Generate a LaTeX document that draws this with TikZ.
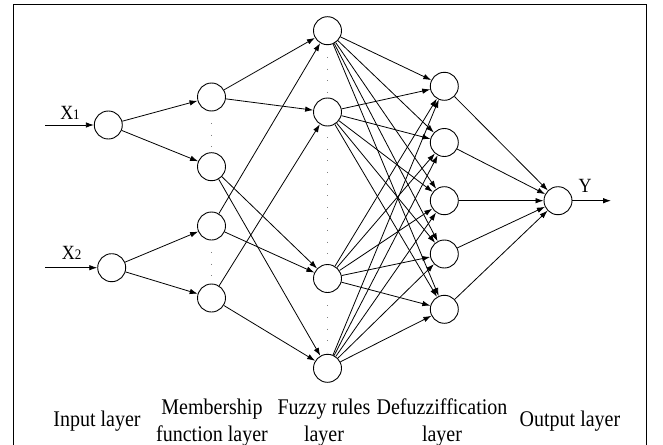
\documentclass[tikz,border=0pt]{standalone}
\usepackage{fontspec}
\setmainfont{Liberation Serif}
\usetikzlibrary{arrows.meta}
\newcommand{\tallbox}[1]{\scalebox{1}[1.12]{#1}}
\begin{document}
\begin{tikzpicture}[x=1pt,y=-1pt]
\tikzset{
  neuron/.style={circle, draw, line width=0.9pt, minimum size=28pt, inner sep=0pt},
  conn/.style={line width=0.8pt, -{Latex[length=8pt,width=5.5pt]}},
  dotcol/.style={draw=gray, line width=1pt, dash pattern=on 1pt off 10.6pt},
  lbl/.style={font=\fontsize{20}{24.5}\selectfont, inner sep=0pt, anchor=base},
  inlbl/.style={font=\fontsize{18}{20}\selectfont, inner sep=0pt, anchor=base},
  framelines/.style={line width=1.3pt},
}
\useasboundingbox (0,0) rectangle (663,444);
% frame
\draw[framelines] (13.7,460) -- (13.7,4.5) -- (646.7,4.5) -- (646.7,460);

% input layer
\node[neuron] (I1) at (108.3,125) {};
\node[neuron] (I2) at (111.7,267.7) {};
\coordinate (in1) at (45,125);
\coordinate (in2) at (45,267.7);
% membership layer
\node[neuron] (M1) at (211.5,97) {};
\node[neuron] (M2) at (211.5,166.7) {};
\node[neuron] (M3) at (211.5,226) {};
\node[neuron] (M4) at (211.5,298) {};
% fuzzy rules layer
\node[neuron] (F1) at (327.5,30.7) {};
\node[neuron] (F2) at (327.5,112) {};
\node[neuron] (F3) at (327.5,278.5) {};
\node[neuron] (F4) at (327.5,368.3) {};
% defuzzification layer
\node[neuron] (D1) at (444.3,86.3) {};
\node[neuron] (D2) at (444.3,142.5) {};
\node[neuron] (D3) at (444.3,200.7) {};
\node[neuron] (D4) at (444.3,254) {};
\node[neuron] (D5) at (444.3,309.3) {};
% output layer
\node[neuron] (O) at (558,200.7) {};
\coordinate (outend) at (611,200.7);

% dots
\draw[dotcol] ([yshift=-11.5pt]M1.south) -- ([yshift=3pt]M2.north);
\draw[dotcol] ([yshift=-11.5pt]M3.south) -- ([yshift=7pt]M4.north);
\draw[dotcol] ([yshift=-11.8pt]F1.south) -- ([yshift=3pt]F2.north);
\draw[dotcol] ([yshift=-10.7pt]F2.south) -- ([yshift=5pt]F3.north);
\draw[dotcol] ([yshift=-12.5pt]F3.south) -- ([yshift=2pt]F4.north);

% connections
\draw[conn] (in1) -- (I1);
\draw[conn] (in2) -- (I2);
\foreach \a/\b in {I1/M1, I1/M2, I2/M3, I2/M4,
                   M1/F1, M1/F2, M2/F3, M2/F4, M3/F1, M3/F3, M4/F2, M4/F4}
  \draw[conn] (\a) -- (\b);
\foreach \f in {F1,F2,F3,F4}
  \foreach \d in {D1,D2,D3,D4,D5}
    \draw[conn] (\f) -- (\d);
\foreach \d in {D1,D2,D3,D4,D5}
  \draw[conn] (\d) -- (O);
\draw[conn] (O) -- (outend);

% input / output labels
\node[inlbl] (x1) at (70,119.3) {\tallbox{X{\fontsize{13}{14}\selectfont 1}}};
\node[inlbl] (x2) at (71.7,259.5) {\tallbox{X{\fontsize{13}{14}\selectfont 2}}};
\node[inlbl] (y) at (585,192.7) {\tallbox{Y}};

% layer labels
\node[lbl] (L1) at (97,426) {\tallbox{Input layer}};
\node[lbl] (L2) at (212,414.3) {\tallbox{\begin{tabular}[t]{@{}c@{}}Membership\\function layer\end{tabular}}};
\node[lbl] (L3) at (324,414.3) {\tallbox{\begin{tabular}[t]{@{}c@{}}Fuzzy rules\\layer\end{tabular}}};
\node[lbl] (L4) at (442,414.3) {\tallbox{\begin{tabular}[t]{@{}c@{}}Defuzziffication\\layer\end{tabular}}};
\node[lbl] (L5) at (570,426) {\tallbox{Output layer}};
\end{tikzpicture}
\end{document}
